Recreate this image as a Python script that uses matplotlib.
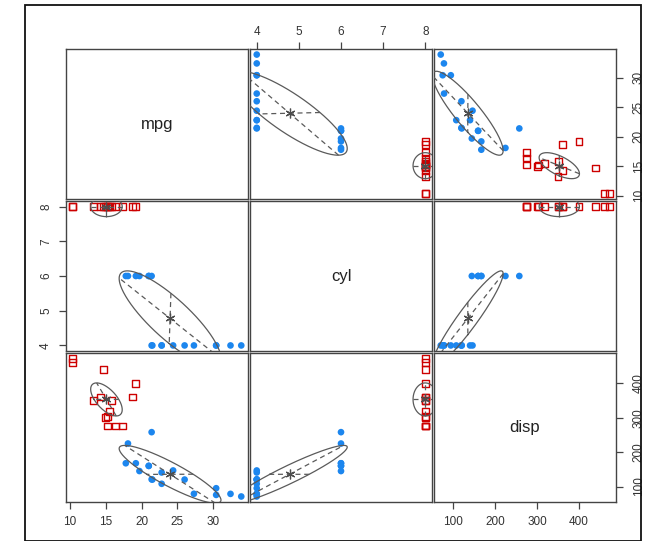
import numpy as np
import matplotlib
matplotlib.use("Agg")
import matplotlib.pyplot as plt
from matplotlib.patches import Rectangle

plt.rcParams['font.family'] = ['Liberation Sans', 'DejaVu Sans']

# Motor Trend car data: fuel economy, cylinders, displacement
mpg = [21.0, 21.0, 22.8, 21.4, 18.7, 18.1, 14.3, 24.4, 22.8, 19.2, 17.8, 16.4,
       17.3, 15.2, 10.4, 10.4, 14.7, 32.4, 30.4, 33.9, 21.5, 15.5, 15.2, 13.3,
       19.2, 27.3, 26.0, 30.4, 15.8, 19.7, 15.0, 21.4]
cyl = [6, 6, 4, 6, 8, 6, 8, 4, 4, 6, 6, 8, 8, 8, 8, 8, 8, 4, 4, 4, 4, 8, 8, 8,
       8, 4, 4, 4, 8, 6, 8, 4]
disp = [160.0, 160.0, 108.0, 258.0, 360.0, 225.0, 360.0, 146.7, 140.8, 167.6,
        167.6, 275.8, 275.8, 275.8, 472.0, 460.0, 440.0, 78.7, 75.7, 71.1,
        120.1, 318.0, 304.0, 350.0, 400.0, 79.0, 120.3, 95.1, 351.0, 145.0,
        301.0, 121.0]

# fitted Gaussian mixture components (order: mpg, cyl, disp)
comp1_sd = [7.1, 1.37, 84.0]
comp1_corr = [[1.00, -0.84, -0.89],
              [-0.84, 1.00, 0.94],
              [-0.89, 0.94, 1.00]]
comp2_sd = [2.2, 0.29, 48.0]
comp2_corr = [[1.00, 0.00, -0.62],
              [0.00, 1.00, 0.00],
              [-0.62, 0.00, 1.00]]

var_names = ["mpg", "cyl", "disp"]
var_data = [np.array(mpg), np.array(cyl, float), np.array(disp)]
var_ticks = [[10, 15, 20, 25, 30], [4, 5, 6, 7, 8], [100, 200, 300, 400]]

is_v8 = np.array(cyl) == 8


def cov_from(sd, corr):
    sd = np.array(sd)
    return np.array(corr) * np.outer(sd, sd)


groups = [
    dict(mask=~is_v8, kind="dot", color="#1C86EE",
         cov=cov_from(comp1_sd, comp1_corr)),
    dict(mask=is_v8, kind="square", color="#CD0000",
         cov=cov_from(comp2_sd, comp2_corr)),
]

W, H = 651, 541
fig = plt.figure(figsize=(W / 100, H / 100), dpi=100)
fig.patch.set_facecolor("white")

# outer frame
fig.add_artist(Rectangle((25 / W, 0), (641 - 25) / W, 1 - 5 / H,
                         transform=fig.transFigure, fill=False,
                         edgecolor="#111111", linewidth=1.3))

col_x = [(66, 248), (250, 432), (434, 616)]
row_y = [(49, 199), (201, 351), (353, 502)]
frame_col = "#444444"
text_col = "#333333"
ell_col = "#5a5a5a"


def padded(v):
    lo, hi = v.min(), v.max()
    d = (hi - lo) * 0.04
    return lo - d, hi + d


def draw_component(ax, mu, sigma):
    """Ellipse at one standard deviation, its principal axes and centre."""
    vals, vecs = np.linalg.eigh(sigma)
    s = np.sqrt(vals)
    t = np.linspace(0, 2 * np.pi, 200)
    pts = vecs @ (s[:, None] * np.vstack([np.cos(t), np.sin(t)]))
    ax.plot(mu[0] + pts[0], mu[1] + pts[1], color=ell_col, lw=0.9, zorder=3)
    for k in range(2):
        v = vecs[:, k] * s[k]
        ax.plot([mu[0] - v[0], mu[0] + v[0]], [mu[1] - v[1], mu[1] + v[1]],
                color=ell_col, lw=0.9, ls=(0, (4, 3)), zorder=3)
    ax.plot([mu[0]], [mu[1]], marker=(6, 2, 0), ms=7, mew=0.9,
            color="#4d4d4d", zorder=4)


for i in range(3):
    for j in range(3):
        x0, x1 = col_x[j]
        y0, y1 = row_y[i]
        ax = fig.add_axes([x0 / W, 1 - y1 / H, (x1 - x0) / W, (y1 - y0) / H])
        for s in ax.spines.values():
            s.set_color(frame_col)
            s.set_linewidth(1.0)
        ax.set_xlim(*padded(var_data[j]))
        ax.set_ylim(*padded(var_data[i]))
        ax.tick_params(colors=frame_col, labelcolor=text_col, labelsize=8.5,
                       length=5, width=0.9, pad=5)
        ax.set_xticks([])
        ax.set_yticks([])

        if i == j:
            ax.text(0.5, 0.5, var_names[i], transform=ax.transAxes,
                    ha="center", va="center", fontsize=12, color="#222222")
        else:
            x = var_data[j]
            y = var_data[i]
            for g in groups:
                m = g["mask"]
                gx, gy = x[m], y[m]
                if g["kind"] == "dot":
                    ax.scatter(gx, gy, s=23, color=g["color"],
                               edgecolors="none", zorder=2)
                else:
                    ax.scatter(gx, gy, s=24, marker="s", facecolors="none",
                               edgecolors=g["color"], linewidths=1.0, zorder=2)
                mu = [gx.mean(), gy.mean()]
                sig = g["cov"][np.ix_([j, i], [j, i])]
                draw_component(ax, mu, sig)

        # alternating outer axes
        if i == 0 and j == 1:
            ax.xaxis.tick_top()
            ax.set_xticks(var_ticks[j])
            ax.tick_params(axis="x", pad=3)
        if i == 2 and j in (0, 2):
            ax.set_xticks(var_ticks[j])
        if j == 0 and i == 1:
            ax.set_yticks(var_ticks[i])
            for lab in ax.get_yticklabels():
                lab.set_rotation(90)
                lab.set_va("center")
        if j == 2 and i in (0, 2):
            ax.yaxis.tick_right()
            ax.set_yticks(var_ticks[i])
            ax.tick_params(axis="y", pad=7)
            for lab in ax.get_yticklabels():
                lab.set_rotation(90)
                lab.set_va("center")

fig.savefig("out.png", dpi=100, facecolor="white")
